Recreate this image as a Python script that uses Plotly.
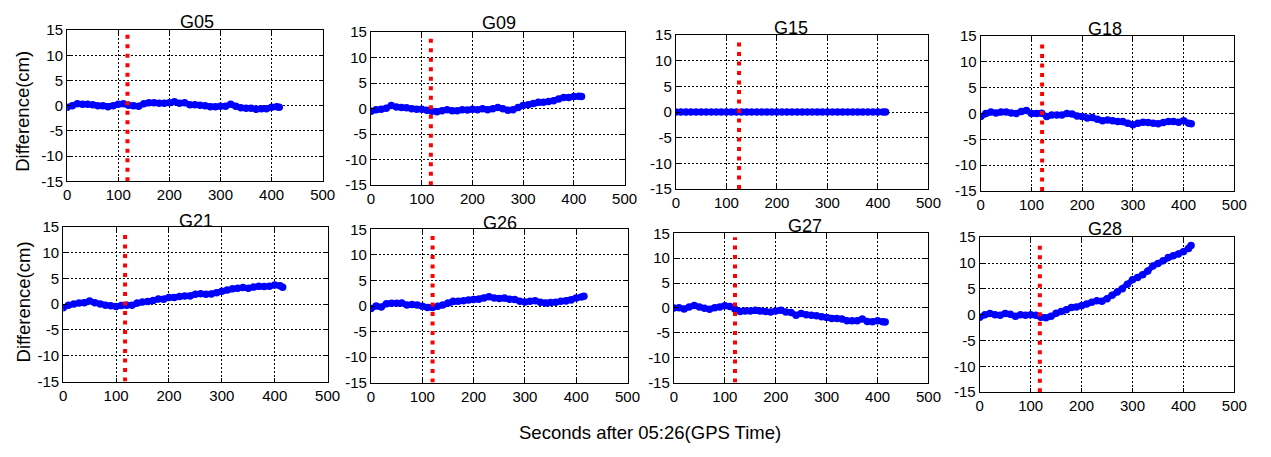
import plotly.graph_objects as go

# ---------------- data ----------------
time_s = [0, 10, 20, 30, 40, 50, 60, 70, 80, 90,
          100, 110, 120, 130, 140, 150, 160, 170, 180, 190,
          200, 210, 220, 230, 240, 250, 260, 270, 280, 290,
          300, 310, 320, 330, 340, 350, 360, 370, 380, 390,
          400, 410, 415]

satellites = ["G05", "G09", "G15", "G18", "G21", "G26", "G27", "G28"]

g05 = [-0.3, 0, 0.4, 0.3, 0.3, 0.2, 0, 0, -0.2, 0,
       0.3, 0.4, 0.1, 0, -0.1, 0.4, 0.6, 0.6, 0.5, 0.5,
       0.6, 0.8, 0.5, 0.6, 0.2, 0.2, 0.1, 0, -0.2, -0.2,
       -0.1, -0.1, 0.3, -0.1, -0.4, -0.5, -0.5, -0.7, -0.6, -0.6,
       -0.3, -0.2, -0.3]
g09 = [-0.5, -0.2, -0.1, 0.1, 0.6, 0.3, 0.25, 0.2, 0, -0.1,
       -0.1, -0.3, -0.5, -0.6, -0.4, -0.2, -0.4, -0.4, -0.2, -0.25,
       -0.1, -0.2, 0, -0.2, 0, 0.25, 0, -0.3, -0.2, 0.25,
       0.6, 0.75, 1.0, 1.25, 1.25, 1.4, 1.55, 1.9, 2.2, 2.2,
       2.4, 2.45, 2.4]
g15 = [0, 0, 0, 0, 0, 0, 0, 0, 0, 0,
       0, 0, 0, 0, 0, 0, 0, 0, 0, 0,
       0, 0, 0, 0, 0, 0, 0, 0, 0, 0,
       0, 0, 0, 0, 0, 0, 0, 0, 0, 0,
       0, 0, 0]
g18 = [-0.6, 0, 0.3, 0.1, 0.3, 0.3, 0.1, 0, 0.4, 0.55,
       0, 0, 0.05, -0.6, -0.3, -0.3, -0.3, 0, -0.1, -0.5,
       -0.6, -0.9, -0.8, -1.1, -1.4, -1.25, -1.4, -1.55, -1.55, -1.9,
       -2.2, -1.9, -1.7, -1.75, -1.9, -2.0, -1.75, -1.55, -1.55, -1.7,
       -1.4, -1.9, -2.0]
g21 = [-0.7, -0.2, 0, 0.2, 0.25, 0.6, 0.25, 0, -0.2, -0.3,
       -0.45, -0.25, -0.2, -0.2, 0.2, 0.4, 0.5, 0.7, 1.0, 0.95,
       1.3, 1.3, 1.45, 1.55, 1.55, 1.9, 2.0, 1.9, 1.95, 2.2,
       2.5, 2.75, 2.95, 3.05, 3.2, 3.05, 3.3, 3.45, 3.4, 3.45,
       3.7, 3.55, 3.25]
g26 = [-0.5, 0, -0.2, 0.45, 0.55, 0.55, 0.6, 0.2, 0.3, 0.2,
       -0.05, -0.3, -0.3, -0.05, 0.2, 0.6, 0.95, 0.95, 1.05, 1.2,
       1.3, 1.35, 1.55, 1.8, 1.55, 1.45, 1.55, 1.35, 1.3, 0.95,
       0.8, 0.95, 1.05, 0.75, 0.6, 0.7, 0.75, 0.95, 1.0, 1.2,
       1.55, 1.75, 1.9]
g27 = [0, 0.05, -0.2, 0.2, 0.5, 0.2, -0.05, -0.25, 0.05, 0.2,
       0.45, 0.3, -0.25, -0.7, -0.6, -0.6, -0.45, -0.6, -0.7, -0.8,
       -0.6, -0.45, -0.8, -0.9, -1.45, -1.1, -1.35, -1.45, -1.55, -1.75,
       -1.9, -2.1, -2.1, -2.2, -2.55, -2.55, -2.55, -2.2, -2.7, -2.75,
       -2.55, -2.75, -2.85]
g28 = [-0.5, 0, 0.25, 0, -0.1, 0.25, 0.1, -0.3, 0, -0.1,
       0, -0.1, -0.5, -0.6, -0.3, 0.3, 0.6, 0.95, 1.4, 1.5,
       1.75, 2.05, 2.4, 2.7, 2.6, 3.1, 3.75, 4.4, 5.0, 5.9,
       6.75, 7.2, 7.75, 8.45, 9.4, 9.9, 10.45, 11.05, 11.4, 11.75,
       12.2, 12.8, 13.4]
series = [g05, g09, g15, g18, g21, g26, g27, g28]

# time of the event marked by the red dotted line (s), and its top (cm)
event_time = [118, 118, 125, 121, 117, 120, 120, 118]
event_top = [14.7, 14.4, 14.2, 14.3, 13.7, 14.0, 14.2, 14.3]

x_ticks = [0, 100, 200, 300, 400, 500]
y_ticks = [-15, -10, -5, 0, 5, 10, 15]
x_title = "Seconds after 05:26(GPS Time)"
y_title = "Difference(cm)"

# ---------------- layout (pixels) ----------------
W, H = 1271, 457
boxes = [  # left, right, top, bottom
    (64, 323, 22, 179), (372, 629, 24, 183), (681, 937, 27, 187), (990, 1247, 28, 189),
    (60, 328, 226, 387), (372, 632, 229, 388), (679, 937, 233, 388), (989, 1247, 237, 398),
]
title_px = [(196, 14), (502, 15), (798, 20), (1116, 21),
            (195, 220), (503, 222), (812, 225), (1116, 228)]

FONT = "Liberation Sans, Arial, sans-serif"
fig = go.Figure()
layout = dict(
    width=W, height=H, margin=dict(l=0, r=0, t=0, b=0),
    paper_bgcolor="white", plot_bgcolor="white", showlegend=False,
    font=dict(family=FONT, color="black", size=15),
)
annotations = []

for i, (name, ys) in enumerate(zip(satellites, series)):
    n = i + 1
    xa, ya = f"x{n}" if n > 1 else "x", f"y{n}" if n > 1 else "y"
    l, r, t, b = boxes[i]
    common = dict(
        showline=True, linecolor="black", linewidth=1.2, mirror="ticks",
        ticks="inside", ticklen=4, tickcolor="black",
        showgrid=True, gridcolor="black", gridwidth=1, griddash="2px,2px",
        zeroline=False, tickfont=dict(family=FONT, size=15, color="black"),
    )
    layout[f"xaxis{n}"] = dict(
        domain=[l / W, r / W], anchor=ya, range=[0, 500],
        tickvals=x_ticks, ticktext=[str(v) for v in x_ticks], **common)
    layout[f"yaxis{n}"] = dict(
        domain=[1 - b / H, 1 - t / H], anchor=xa, range=[-15, 15],
        tickvals=y_ticks, ticktext=[str(v) for v in y_ticks], **common)

    fig.add_trace(go.Scatter(
        x=time_s, y=ys, xaxis=xa, yaxis=ya, mode="lines+markers",
        line=dict(color="#0000ff", width=5.5),
        marker=dict(color="#0000ff", size=7.5),
        hoverinfo="skip"))
    fig.add_trace(go.Scatter(
        x=[event_time[i], event_time[i]], y=[-15, event_top[i]],
        xaxis=xa, yaxis=ya, mode="lines",
        line=dict(color="#ff0000", width=4, dash="4px,5.5px"),
        hoverinfo="skip"))

    tx, ty = title_px[i]
    annotations.append(dict(
        text=name, x=tx / W, y=1 - ty / H, xref="paper", yref="paper",
        xanchor="center", yanchor="middle", showarrow=False,
        font=dict(family=FONT, size=18, color="black")))

annotations.append(dict(
    text=y_title, x=18 / W, y=1 - 106 / H, xref="paper", yref="paper",
    xanchor="center", yanchor="middle", textangle=-90, showarrow=False,
    font=dict(family=FONT, size=18.5, color="black")))
annotations.append(dict(
    text=y_title, x=20 / W, y=1 - 304 / H, xref="paper", yref="paper",
    xanchor="center", yanchor="middle", textangle=-90, showarrow=False,
    font=dict(family=FONT, size=18.5, color="black")))
annotations.append(dict(
    text=x_title, x=655 / W, y=1 - 440 / H, xref="paper", yref="paper",
    xanchor="center", yanchor="middle", showarrow=False,
    font=dict(family=FONT, size=18.5, color="black")))

layout["annotations"] = annotations
fig.update_layout(**layout)
fig.write_html("out.html")
